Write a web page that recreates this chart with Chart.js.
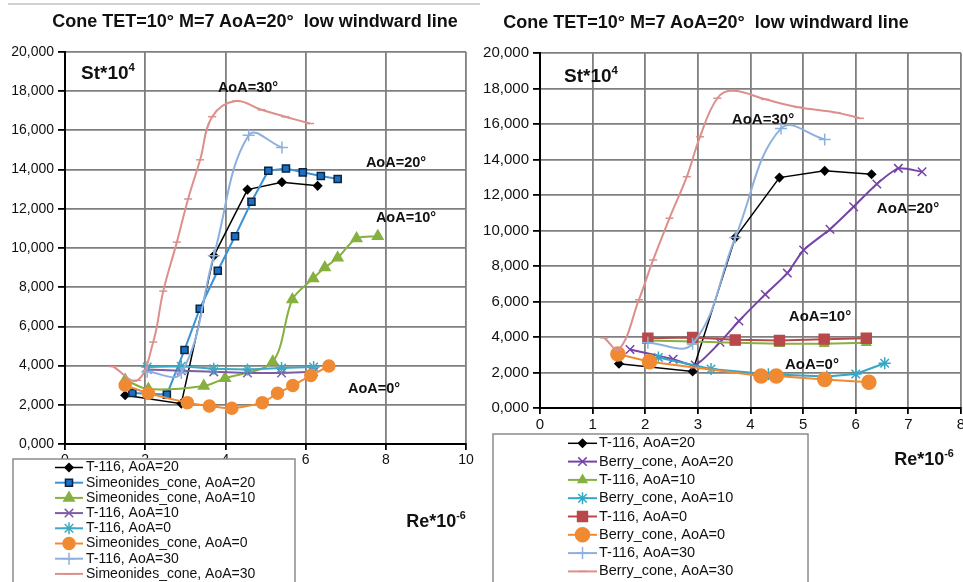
<!DOCTYPE html>
<html lang="en">
<head>
<meta charset="UTF-8">
<title>Cone TET=10° M=7 AoA=20° low windward line</title>
<style>
    html, body {
        margin: 0;
        padding: 0;
        background: #fff;
        overflow: hidden;
    }
    body {
        width: 963px;
        height: 582px;
        position: relative;
        font-family: "Liberation Sans", Arial, sans-serif;
        color: #111;
    }
    canvas {
        position: absolute;
        top: 0;
    }
    #leftChart { left: 0; }
    #rightChart { left: 480px; }
    .topline {
        position: absolute;
        left: 8px;
        top: 3px;
        width: 472px;
        height: 2px;
        background: #d0d0d0;
    }
    .txt {
        position: absolute;
        white-space: nowrap;
        line-height: 1;
        transform: translate(-50%, -50%);
    }
    .title { font-weight: bold; font-size: 18px; }
    .unit { font-weight: bold; font-size: 19px; }
    .unit sup, .axis sup { font-size: 0.6em; vertical-align: 0.65em; }
    .aoa { font-weight: bold; font-size: 14.5px; }
    .axis { font-weight: bold; font-size: 18px; }
</style>
</head>
<body>

<div class="topline"></div>
<canvas id="leftChart" width="480" height="582"></canvas>
<canvas id="rightChart" width="500" height="582"></canvas>

<!-- left panel texts -->
<div class="txt title" style="left:255px; top:21px;">Cone TET=10° M=7 AoA=20°&nbsp; low windward line</div>
<div class="txt unit" style="left:108px; top:72px;">St*10<sup>4</sup></div>
<div class="txt aoa" style="left:248px; top:87px;">AoA=30°</div>
<div class="txt aoa" style="left:396px; top:162px;">AoA=20°</div>
<div class="txt aoa" style="left:406px; top:217px;">AoA=10°</div>
<div class="txt aoa" style="left:374px; top:388px;">AoA=0°</div>
<div class="txt axis" style="left:436px; top:520px;">Re*10<sup>-6</sup></div>

<!-- right panel texts -->
<div class="txt title" style="left:706px; top:22px;">Cone TET=10° M=7 AoA=20°&nbsp; low windward line</div>
<div class="txt unit" style="left:591px; top:75px;">St*10<sup>4</sup></div>
<div class="txt aoa" style="left:763px; top:118px; font-size:15px;">AoA=30°</div>
<div class="txt aoa" style="left:908px; top:207px; font-size:15px;">AoA=20°</div>
<div class="txt aoa" style="left:820px; top:315px; font-size:15px;">AoA=10°</div>
<div class="txt aoa" style="left:812px; top:363px; font-size:15px;">AoA=0°</div>
<div class="txt axis" style="left:924px; top:458px;">Re*10<sup>-6</sup></div>

<script src="https://cdn.jsdelivr.net/npm/chart.js"></script>
<script>
    // T-116 tunnel data (same in both panels), y = St*10^4
    const t116X20 = [1.5, 2.9, 3.71, 4.55, 5.41, 6.3];
    const t116Y20 = [2.49, 2.06, 9.6, 12.98, 13.36, 13.17];
    const t116X10 = [2.05, 2.9, 3.71, 4.55, 5.4, 6.2];
    const t116Y10 = [3.8, 3.74, 3.68, 3.62, 3.62, 3.68];
    const t116X0 = [2.05, 2.9, 3.71, 4.55, 5.4, 6.2];
    const t116Y0 = [3.93, 3.97, 3.84, 3.8, 3.88, 3.93];
    const t116X30 = [2.05, 2.9, 3.71, 4.58, 5.41];
    const t116Y30 = [3.68, 3.62, 9.6, 15.75, 15.13];

    // Simeonides cone
    const simX20 = [1.68, 2.54, 2.98, 3.36, 3.81, 4.24, 4.65, 5.07, 5.51, 5.93, 6.38, 6.8];
    const simY20 = [2.6, 2.52, 4.8, 6.9, 8.84, 10.6, 12.36, 13.94, 14.06, 13.86, 13.67, 13.52];
    const simX10 = [1.5, 2.08, 3.46, 3.99, 5.18, 5.67, 6.19, 6.48, 6.8, 7.27, 7.8];
    const simY10 = [3.27, 2.8, 2.96, 3.35, 4.2, 7.37, 8.45, 9.0, 9.5, 10.49, 10.6];
    const simX0 = [1.5, 2.08, 3.05, 3.6, 4.16, 4.92, 5.3, 5.68, 6.13, 6.58];
    const simY0 = [3.0, 2.59, 2.11, 1.94, 1.82, 2.11, 2.59, 2.98, 3.49, 3.98];
    const simX30 = [1.2, 1.8, 2.2, 2.45, 2.79, 3.07, 3.37, 3.67, 4.26, 4.9, 5.49, 6.11];
    const simY30 = [3.95, 3.25, 5.2, 7.8, 10.3, 12.5, 14.5, 16.7, 17.5, 17.05, 16.7, 16.35];

    // Berry cone
    const berryX20 = [1.71, 2.53, 2.95, 3.42, 3.78, 4.28, 4.7, 5.01, 5.51, 5.96, 6.4, 6.81, 7.26];
    const berryY20 = [3.3, 2.75, 2.42, 3.7, 4.9, 6.4, 7.6, 8.9, 10.07, 11.34, 12.62, 13.5, 13.31];
    const berryX10 = [2.25, 3.25, 4.34, 5.45, 6.0, 6.55];
    const berryY10 = [2.85, 2.2, 1.9, 1.77, 1.92, 2.52];
    const berryX0 = [1.48, 2.08, 4.2, 4.49, 5.41, 6.25];
    const berryY0 = [3.04, 2.61, 1.8, 1.8, 1.61, 1.45];
    const berryX30 = [1.22, 1.5, 1.88, 2.15, 2.46, 2.79, 3.04, 3.37, 3.67, 4.28, 4.91, 5.64, 6.08];
    const berryY30 = [3.95, 3.3, 6.1, 8.34, 10.69, 13.03, 15.28, 17.45, 17.88, 17.39, 16.94, 16.64, 16.32];

    // tick labels
    const yTicks = [0, 2, 4, 6, 8, 10, 12, 14, 16, 18, 20];
    const xTicksLeft = [0, 2, 4, 6, 8, 10];
    const xTicksRight = [0, 1, 2, 3, 4, 5, 6, 7, 8];

    function zip(xs, ys) {
        return xs.map((x, i) => ({ x: x, y: ys[i] }));
    }

    // one dataset with its line and marker look
    function serie(label, xs, ys, st) {
        return {
            label: label,
            data: zip(xs, ys),
            showLine: true,
            borderColor: st.color,
            backgroundColor: st.fill || st.color,
            borderWidth: st.width || 2,
            tension: st.tension || 0,
            pointStyle: st.marker || false,
            pointRadius: st.marker ? st.radius : 0,
            pointHoverRadius: st.marker ? st.radius : 0,
            pointBackgroundColor: st.fill || st.color,
            pointBorderColor: st.edge || st.color,
            pointBorderWidth: st.edgeWidth || 1.5
        };
    }

    // legend in a box under the plot, one row per series
    const boxLegend = {
        id: 'boxLegend',
        afterDraw(chart, args, o) {
            const ctx = chart.ctx;
            ctx.save();
            ctx.fillStyle = '#fff';
            ctx.fillRect(o.x, o.y, o.w, o.h);
            ctx.strokeStyle = '#8c8c8c';
            ctx.lineWidth = 1.5;
            ctx.strokeRect(o.x, o.y, o.w, o.h);
            ctx.font = o.font;
            ctx.textBaseline = 'middle';
            chart.data.datasets.forEach((d, i) => {
                const cy = o.rowY + i * o.rowH;
                ctx.strokeStyle = d.borderColor;
                ctx.lineWidth = d.borderWidth;
                ctx.beginPath();
                ctx.moveTo(o.lineX0, cy);
                ctx.lineTo(o.lineX1, cy);
                ctx.stroke();
                if (d.pointStyle) {
                    ctx.fillStyle = d.pointBackgroundColor;
                    ctx.strokeStyle = d.pointBorderColor;
                    ctx.lineWidth = d.pointBorderWidth;
                    Chart.helpers.drawPoint(ctx, {
                        pointStyle: d.pointStyle,
                        radius: d.pointRadius,
                        borderWidth: d.pointBorderWidth,
                        rotation: 0
                    }, (o.lineX0 + o.lineX1) / 2, cy);
                }
                ctx.fillStyle = '#111';
                ctx.fillText(d.label, o.textX, cy);
            });
            ctx.restore();
        }
    };

    function makeChart(id, datasets, xTicks, cfg) {
        // later series on top, like the original
        datasets.forEach((d, i) => { d.order = -i; });
        return new Chart(document.getElementById(id), {
            type: 'scatter',
            data: { datasets: datasets },
            plugins: [boxLegend],
            options: {
                responsive: false,
                animation: false,
                events: [],
                layout: { padding: cfg.padding },
                plugins: {
                    legend: { display: false },
                    title: { display: false },
                    tooltip: { enabled: false },
                    boxLegend: cfg.legend
                },
                scales: {
                    x: {
                        type: 'linear',
                        min: xTicks[0],
                        max: xTicks[xTicks.length - 1],
                        afterBuildTicks: s => { s.ticks = xTicks.map(v => ({ value: v })); },
                        afterFit: s => { s.height = 30; },
                        ticks: {
                            color: '#111',
                            padding: 2,
                            font: { family: 'Liberation Sans, Arial', size: cfg.tickSize }
                        },
                        grid: { color: '#7f7f7f', lineWidth: 1.8, tickLength: 6, tickColor: '#000' },
                        border: { color: '#000', width: 2 }
                    },
                    y: {
                        min: 0,
                        max: 20,
                        afterBuildTicks: s => { s.ticks = yTicks.map(v => ({ value: v })); },
                        afterFit: s => { s.width = 60; },
                        ticks: {
                            color: '#111',
                            padding: 4,
                            font: { family: 'Liberation Sans, Arial', size: cfg.tickSize },
                            callback: v => v.toFixed(3).replace('.', ',')
                        },
                        grid: { color: '#7f7f7f', lineWidth: 1.8, tickLength: 7, tickColor: '#000' },
                        border: { color: '#000', width: 2 }
                    }
                }
            }
        });
    }

    const black = { color: '#000', marker: 'rectRot', radius: 4, width: 1.5 };
    const lightBlue = { color: '#8db0de', marker: 'cross', radius: 6, tension: 0.4 };
    const pink = { color: '#dc8f8b', marker: 'line', radius: 4, tension: 0.4 };

    makeChart('leftChart', [
        serie('T-116, AoA=20', t116X20, t116Y20, black),
        serie('Simeonides_cone, AoA=20', simX20, simY20, { color: '#3a93d6', fill: '#1d6fc2', edge: '#0b2440', marker: 'rect', radius: 5 }),
        serie('Simeonides_cone, AoA=10', simX10, simY10, { color: '#86b040', marker: 'triangle', radius: 6, tension: 0.3 }),
        serie('T-116, AoA=10', t116X10, t116Y10, { color: '#7d5ba6', marker: 'crossRot', radius: 6 }),
        serie('T-116, AoA=0', t116X0, t116Y0, { color: '#3fa9c4', marker: 'star', radius: 6 }),
        serie('Simeonides_cone, AoA=0', simX0, simY0, { color: '#f08a32', marker: 'circle', radius: 6, tension: 0.2 }),
        serie('T-116, AoA=30', t116X30, t116Y30, lightBlue),
        serie('Simeonides_cone, AoA=30', simX30, simY30, pink)
    ], xTicksLeft, {
        padding: { left: 5, top: 52, right: 14, bottom: 108 },
        tickSize: 14,
        legend: { x: 13, y: 459, w: 282, h: 140, rowY: 467.5, rowH: 15.2,
                  lineX0: 55, lineX1: 83, textX: 86, font: '14px "Liberation Sans", Arial' }
    });

    makeChart('rightChart', [
        serie('T-116, AoA=20', t116X20, t116Y20, black),
        serie('Berry_cone, AoA=20', berryX20, berryY20, { color: '#7444a6', marker: 'crossRot', radius: 6, tension: 0.2 }),
        serie('T-116, AoA=10', t116X10, t116Y10, { color: '#86b040', marker: 'triangle', radius: 5 }),
        serie('Berry_cone, AoA=10', berryX10, berryY10, { color: '#34a7c4', marker: 'star', radius: 6 }),
        serie('T-116, AoA=0', t116X0, t116Y0, { color: '#b9484a', marker: 'rect', radius: 7 }),
        serie('Berry_cone, AoA=0', berryX0, berryY0, { color: '#f08a32', marker: 'circle', radius: 7 }),
        serie('T-116, AoA=30', t116X30, t116Y30, lightBlue),
        serie('Berry_cone, AoA=30', berryX30, berryY30, pink)
    ], xTicksRight, {
        padding: { left: 0, top: 53, right: 19, bottom: 144 },
        tickSize: 15,
        legend: { x: 13, y: 434, w: 315, h: 160, rowY: 443.3, rowH: 18.3,
                  lineX0: 88, lineX1: 117, textX: 119, font: '14.5px "Liberation Sans", Arial' }
    });
</script>

</body>
</html>
